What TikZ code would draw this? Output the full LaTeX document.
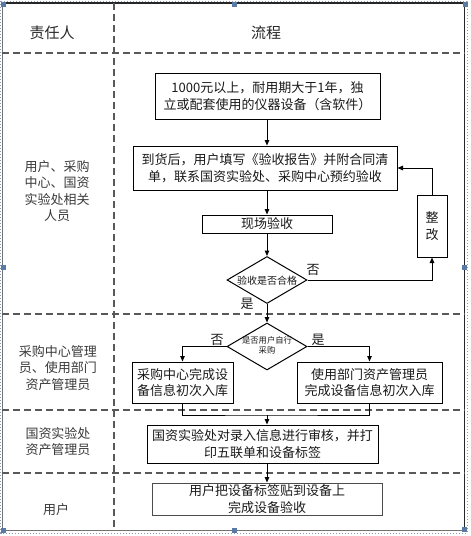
\documentclass[tikz,border=0pt]{standalone}
\usepackage{fontspec}
\setmainfont{Noto Sans CJK SC}
\usetikzlibrary{shapes.geometric,arrows.meta}
\definecolor{handle}{HTML}{5A7AA4}
\definecolor{selb}{HTML}{8A9AB5}
\definecolor{lanetxt}{HTML}{3A3A3A}
\tikzset{
  boxnode/.style={draw=black, line width=1pt, inner sep=0pt, align=center, text=black!90,
    font=\fontsize{13pt}{16.5pt}\selectfont},
  decision/.style={draw=black, line width=1pt, diamond, inner sep=0pt, aspect=1.7,
    minimum width=80pt, minimum height=47pt},
  smalltxt/.style={inner sep=0pt, align=center, text=black!90},
  lanetext/.style={inner sep=0pt, align=center, text=lanetxt,
    font=\fontsize{13pt}{16.6pt}\selectfont},
  headtext/.style={inner sep=0pt, text=black!85, font=\fontsize{15pt}{18pt}\selectfont},
  lbl/.style={inner sep=0pt, text=black!90, font=\fontsize{13pt}{15pt}\selectfont},
  arr/.style={draw=black, line width=1pt, -{Triangle[length=5.5pt,width=4.5pt]}},
  conn/.style={draw=black, line width=1pt},
  lanesep/.style={draw=black!65, line width=1.2pt, dash pattern=on 7pt off 4pt},
  handlebox/.style={fill=handle, draw=none, minimum size=5pt, inner sep=0pt}
}
\begin{document}
\begin{tikzpicture}[x=1pt,y=-1pt]
\useasboundingbox (0,0) rectangle (471,536);
% selection border and frame
\draw[selb, line width=1pt, dotted] (0.8,1.2) rectangle (467.2,533);
\draw[black!55, line width=1.2pt] (2.3,3) -- (2.3,530.5) -- (464.5,530.5);
\draw[black!85, line width=1.3pt] (2.3,3) -- (464.5,3) -- (464.5,530.5);
% lane separators
\draw[lanesep] (2.3,53) -- (464.5,53);
\draw[lanesep] (2.3,314) -- (464.5,314);
\draw[lanesep] (2.3,410) -- (464.5,410);
\draw[lanesep] (2.3,473) -- (464.5,473);
\draw[lanesep] (114,3) -- (114,530.5);
% headers
\node[headtext] (h1) at (52,33) {责任人};
\node[headtext] (h2) at (266,33) {流程};
% lane labels
\node[lanetext] (l1) at (57,191) {用户、采购\\中心、国资\\实验处相关\\人员};
\node[lanetext] (l2) at (58,368) {采购中心管理\\员、使用部门\\资产管理员};
\node[lanetext] (l3) at (58,441.5) {国资实验处\\资产管理员};
\node[lanetext] (l4) at (56,510) {用户};
% flow boxes
\node[boxnode, minimum width=225pt, minimum height=46pt] (b1) at (267.5,96)
  {1000元以上，耐用期大于1年，独\\立或配套使用的仪器设备（含软件）};
\node[boxnode, minimum width=264pt, minimum height=44pt] (b2) at (265,168)
  {到货后，用户填写《验收报告》并附合同清\\单，联系国资实验处、采购中心预约验收};
\node[boxnode, minimum width=130pt, minimum height=18pt] (b3) at (267,224) {现场验收};
\node[decision] (d1) at (267,280) {};
\node[smalltxt, font=\fontsize{10pt}{12pt}\selectfont] (d1t) at (267,281) {验收是否合格};
\node[boxnode, minimum width=30pt, minimum height=62pt] (zg) at (432,226) {整\\改};
\node[decision] (d2) at (267,346.5) {};
\node[smalltxt, font=\fontsize{8.3pt}{10pt}\selectfont] (d2t) at (267,345) {是否用户自行\\采购};
\node[boxnode, minimum width=101pt, minimum height=41pt] (bL) at (182.5,382.5)
  {采购中心完成设\\备信息初次入库};
\node[boxnode, minimum width=145pt, minimum height=41pt] (bR) at (369.5,382.5)
  {使用部门资产管理员\\完成设备信息初次入库};
\node[boxnode, minimum width=231pt, minimum height=38pt] (b4) at (262.5,444)
  {国资实验处对录入信息进行审核，并打\\印五联单和设备标签};
\node[boxnode, draw=black!70, minimum width=230pt, minimum height=32pt] (b5) at (267,499)
  {用户把设备标签贴到设备上\\完成设备验收};
% labels
\node[lbl] (n1) at (313,270) {否};
\node[lbl] (y1) at (247,304) {是};
\node[lbl] (n2) at (217,340) {否};
\node[lbl] (y2) at (318,340) {是};
% connectors
\coordinate (jn) at (267,415);
\draw[arr] (b1.south -| 267,0) -- (b2.north -| 267,0);
\draw[arr] (b2.south -| 267,0) -- (b3.north -| 267,0);
\draw[arr] (b3.south) -- (d1.north);
\draw[arr] (d1.east) -| (zg.south);
\draw[arr] (zg.north) |- (b2.east);
\draw[arr] (d1.south) -- (d2.north);
\draw[arr] (d2.west) -| (bL.north);
\draw[arr] (d2.east) -| (bR.north);
\draw[conn] (bL.south) |- (jn) -| (bR.south);
\draw[arr] (jn) -- (b4.north -| jn);
\draw[arr] (b4.south -| 267,0) -- (b5.north);
% selection handles
\foreach \p/\q [count=\i] in {3/4.5, 234.5/4.5, 465/4.5, 3/267, 464.5/267, 3/530, 234/530, 464.5/529.5}
  \node[handlebox] (hd\i) at (\p,\q) {};
\end{tikzpicture}
\end{document}
